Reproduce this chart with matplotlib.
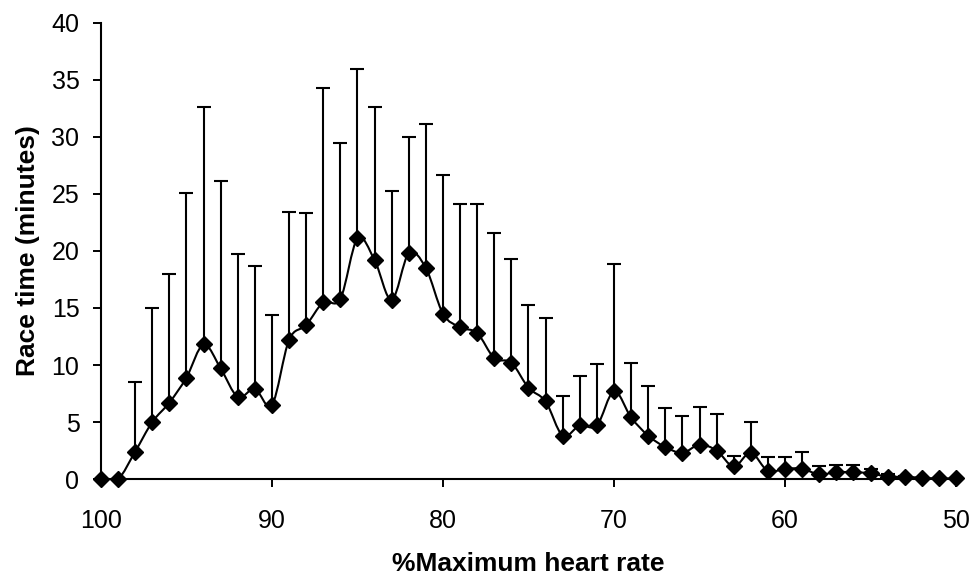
import matplotlib.pyplot as plt
import numpy as np
from matplotlib.path import Path
from matplotlib.patches import PathPatch

plt.rcParams['font.family'] = ['Liberation Sans', 'DejaVu Sans']

# % max heart rate, mean race time and top of error bar (mean + SD)
hr = list(range(100, 49, -1))
mean_time = [0, 0, 2.4, 5.0, 6.7, 8.9, 11.8, 9.7, 7.2, 7.9,
             6.5, 12.2, 13.5, 15.5, 15.8, 21.1, 19.2, 15.7, 19.8, 18.5,
             14.5, 13.3, 12.8, 10.6, 10.2, 8.0, 6.8, 3.8, 4.7, 4.7,
             7.7, 5.4, 3.8, 2.8, 2.3, 3.0, 2.5, 1.1, 2.3, 0.7,
             0.9, 0.9, 0.4, 0.6, 0.6, 0.5, 0.2, 0.2, 0.1, 0.05,
             0.05]
upper_time = [0, 0, 8.5, 15.0, 18.0, 25.1, 32.6, 26.1, 19.7, 18.7,
              14.4, 23.4, 23.3, 34.3, 29.5, 36.0, 32.6, 25.3, 30.0, 31.1,
              26.7, 24.1, 24.1, 21.6, 19.3, 15.3, 14.1, 7.3, 9.0, 10.1,
              18.9, 10.2, 8.2, 6.2, 5.5, 6.3, 5.7, 2.0, 5.0, 1.9,
              1.9, 2.4, 1.1, 1.2, 1.2, 0.9, 0.4, 0.3, 0.1, 0.05,
              0.05]


def smooth_path(x, y):
    # Catmull-Rom style bezier through the points (like a smoothed line)
    x = np.asarray(x, float)
    y = np.asarray(y, float)
    verts = [(x[0], y[0])]
    codes = [Path.MOVETO]
    n = len(x)
    for i in range(n - 1):
        p0 = i - 1 if i > 0 else i
        p3 = i + 2 if i + 2 < n else i + 1
        c1 = (x[i] + (x[i + 1] - x[p0]) / 6, y[i] + (y[i + 1] - y[p0]) / 6)
        c2 = (x[i + 1] - (x[p3] - x[i]) / 6, y[i + 1] - (y[p3] - y[i]) / 6)
        verts += [c1, c2, (x[i + 1], y[i + 1])]
        codes += [Path.CURVE4] * 3
    return Path(verts, codes)


fig = plt.figure(figsize=(9.69, 5.79), dpi=100)
ax = fig.add_axes([0.1042, 0.1727, 0.8824, 0.7876])

err_up = np.array(upper_time) - np.array(mean_time)
err_down = np.zeros(len(hr))
ax.errorbar(hr, mean_time, yerr=[err_down, err_up], fmt='none',
            ecolor='black', elinewidth=1.5, capsize=5, capthick=1.5,
            zorder=2)
ax.add_patch(PathPatch(smooth_path(hr, mean_time), facecolor='none',
                       edgecolor='black', lw=1.5, zorder=3))
ax.plot(hr, mean_time, linestyle='none', marker='D', markersize=8.5,
        color='black', zorder=4, clip_on=False)

ax.set_xlim(100, 50)
ax.set_ylim(0, 40)
ax.set_xticks(range(100, 49, -10))
ax.set_yticks(range(0, 41, 5))
ax.tick_params(direction='out', length=5.5, width=1.4, labelsize=18,
               colors='black')
ax.tick_params(axis='y', pad=10)
ax.tick_params(axis='x', pad=16)
ax.spines['top'].set_visible(False)
ax.spines['right'].set_visible(False)
for s in ('left', 'bottom'):
    ax.spines[s].set_linewidth(1.5)

ax.set_xlabel('%Maximum heart rate', fontsize=19, fontweight='bold',
              labelpad=14)
ax.set_ylabel('Race time (minutes)', fontsize=19, fontweight='bold',
              labelpad=8)

fig.savefig('out.png', dpi=100)
